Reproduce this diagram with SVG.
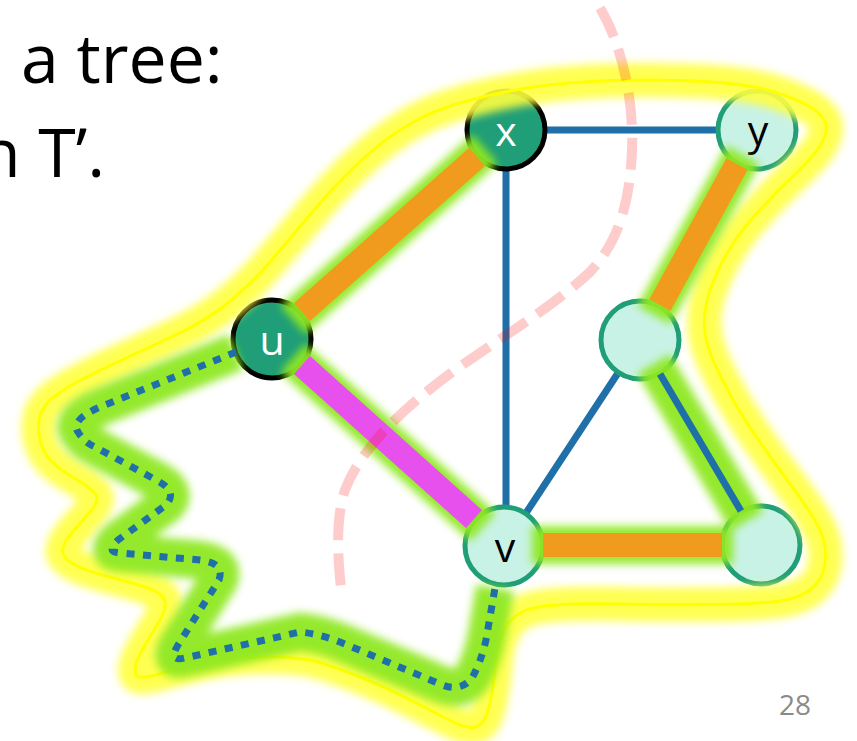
<svg xmlns="http://www.w3.org/2000/svg" width="857" height="741" viewBox="0 0 857 741">
<defs>
<style>
.title{font-family:"Open Sans","Liberation Sans",sans-serif;font-size:68px;fill:#000}
.lbl{font-family:"Open Sans","Liberation Sans",sans-serif;font-size:41px;text-anchor:middle}
.dark circle{fill:#1f9e78;stroke:#000;stroke-width:5}
.dark text{fill:#fff}
.light circle{fill:#c8f2e6;stroke:#1f9e78;stroke-width:5}
.light text{fill:#000}
.thin{stroke:#1f6fa8;stroke-width:7;fill:none}
.thick{stroke-width:24;fill:none}
.glow{stroke:#8fe820;fill:none;stroke-width:38}
</style>
<filter id="blur" filterUnits="userSpaceOnUse" x="0" y="0" width="857" height="741">
<feGaussianBlur stdDeviation="4.5"/>
</filter>
<path id="hull" d="M40,440 Q37,427 40,416 Q43,405 55,396 Q67,387 83.5,378.5 Q100,370 125,358.5 Q150,347 178.5,333.5 Q207,320 228.5,302.5 Q250,285 266.5,266 Q283,247 308,217 Q333,187 358,163.5 Q383,140 408,125 Q433,110 466.5,101 Q500,92 533.5,87 Q567,82 613.5,80.5 Q660,79 705,81.5 Q750,84 775,92 Q800,100 812.5,108.5 Q825,117 826,126 Q827,135 820,146 Q813,157 793,176 Q773,195 753,217.5 Q733,240 720,266.5 Q707,293 705,311.5 Q703,330 708,346.5 Q713,363 726.5,388 Q740,413 755,435 Q770,457 783.5,475 Q797,493 808.5,510 Q820,527 823.5,540 Q827,553 824.5,566.5 Q822,580 811,589 Q800,598 780,601 Q760,604 706,604.5 Q652,605 617,604 Q582,603 555.5,605 Q529,607 518.5,614 Q508,621 502.5,633.5 Q497,646 495.5,663.5 Q494,681 492,693 Q490,705 486.5,715 Q483,725 475.5,727 Q468,729 454.5,722.5 Q441,716 414.5,702 Q388,688 361.5,677.5 Q335,667 317.5,662 Q300,657 266.5,657 Q233,657 208,662 Q183,667 161.5,673.5 Q140,680 136.5,675 Q133,670 138,658.5 Q143,647 155,628.5 Q167,610 165,601.5 Q163,593 148,588 Q133,583 108,576.5 Q83,570 72.5,563.5 Q62,557 62.5,550 Q63,543 73,531.5 Q83,520 91.5,510 Q100,500 95,493.5 Q90,487 75,478.5 Q60,470 51.5,461.5 Q43,453 40,440 Z"/>
<path id="walk" d="M236,352 L100,407 Q70,420 78,432 Q84,442 95,447 L158,481 Q178,492 166,505 L118,540 Q105,552 120,553 L200,560 Q225,563 219,580 L178,645 Q168,662 185,658 L300,632 Q320,634 340,642 L440,684 Q460,693 472,678 Q481,662 486,640 L495,588"/>
</defs>
<rect width="857" height="741" fill="#fff"/>

<g id="title">
<text class="title" x="21" y="83">a tree:</text>
<text class="title" x="-21" y="177">n T’.</text>
</g>

<g id="plain-edges">
<line class="thin" x1="546" y1="130" x2="718" y2="130"/>
<line class="thin" x1="506" y1="170" x2="506" y2="507"/>
<line class="thin" x1="526" y1="513" x2="618" y2="373"/>
</g>

<g id="node-x" class="dark"><circle cx="506" cy="130" r="39"/><text class="lbl" x="506" y="146">x</text></g>
<g id="node-y" class="light"><circle cx="757" cy="130" r="39"/><text class="lbl" x="758" y="145">y</text></g>
<g id="node-u" class="dark"><circle cx="272" cy="339" r="39"/><text class="lbl" x="272" y="355">u</text></g>
<g id="node-v" class="light"><circle cx="504" cy="546" r="39"/><text class="lbl" x="505" y="562">v</text></g>
<g id="node-m" class="light"><circle cx="640" cy="340" r="39"/></g>
<g id="node-w" class="light"><circle cx="761" cy="545" r="39"/></g>

<g id="cut-region">
<use href="#hull" fill="none" stroke="#ffff40" stroke-width="34" opacity="0.9" filter="url(#blur)"/>
<use href="#hull" fill="none" stroke="#ffff00" stroke-width="3"/>
</g>

<g id="connectors">
<g id="glows" filter="url(#blur)" opacity="0.95">
<line class="glow" x1="485" y1="149" x2="293" y2="320"/>
<line class="glow" x1="293" y1="358" x2="483" y2="527"/>
<line class="glow" x1="743" y1="155" x2="654" y2="315"/>
<line class="glow" x1="532" y1="545" x2="733" y2="545"/>
<line class="glow" x1="654" y1="364" x2="747" y2="521" stroke-width="32"/>
<use href="#walk" class="glow" stroke-width="30"/>
</g>
<line class="thick" stroke="#f09b1e" x1="477" y1="157" x2="302" y2="312"/>
<line class="thick" stroke="#e850ee" x1="302" y1="365" x2="474" y2="519"/>
<line class="thick" stroke="#f09b1e" x1="737" y1="164" x2="660" y2="305"/>
<line class="thick" stroke="#f09b1e" x1="543" y1="545" x2="722" y2="545"/>
<line class="thin" x1="660" y1="374" x2="741" y2="511"/>
<use href="#walk" fill="none" stroke="#1f6fa8" stroke-width="7" stroke-dasharray="8 8.5"/>
</g>

<path id="cut" d="M600,8 C622,45 634,100 632,150 C630,200 620,240 590,272 C555,305 505,335 455,370 C400,410 360,450 345,490 C335,520 338,560 341,588" fill="none" stroke="#ff0000" stroke-opacity="0.2" stroke-width="10" stroke-dasharray="32 13"/>

<text x="811" y="715" font-family="Open Sans, Liberation Sans, sans-serif" font-size="28" fill="#8a8a8a" text-anchor="end">28</text>
</svg>
